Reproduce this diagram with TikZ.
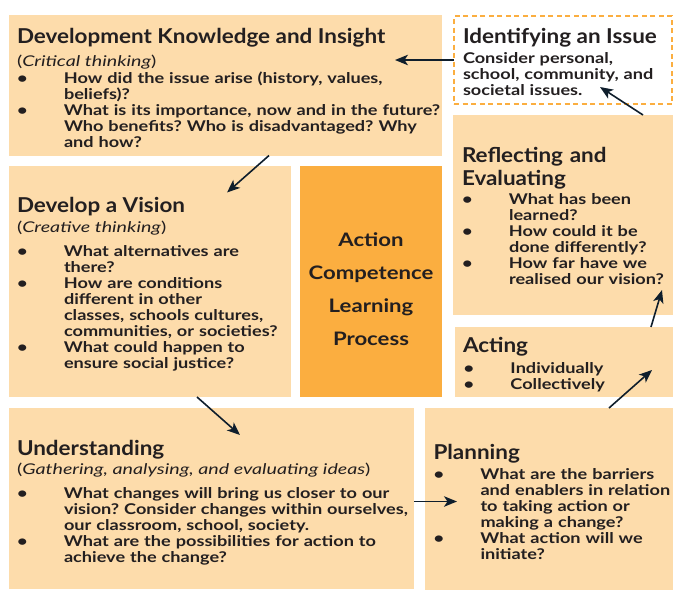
\documentclass[tikz,border=0pt]{standalone}
\usepackage{fontspec}
\setmainfont{Lato}[FakeStretch=1.225]
\newfontfamily\ttlfam{Lato}[FakeStretch=1.095]
\newfontfamily\subfam{Lato}[FakeStretch=1.33]
\newfontfamily\actfam{Lato}[FakeStretch=1.19]
\usetikzlibrary{arrows.meta}
\definecolor{peach}{HTML}{FDDCAB}
\definecolor{orng}{HTML}{FBAE40}
\definecolor{navy}{HTML}{0F1E2C}
\definecolor{ink}{HTML}{231F20}
\frenchspacing
\hyphenpenalty=10000
\newcommand\ttlf{\ttlfam\fontsize{20.5}{23.3}\selectfont\bfseries}
\newcommand\bdyf{\frenchspacing\fontsize{14.8}{16}\selectfont\bfseries}
\newcommand\actf{\actfam\fontsize{18.6}{33.3}\selectfont\bfseries}
\newcommand\subt[1]{{\subfam\fontsize{14.8}{16}\selectfont\mdseries(\textit{#1})}}
\newcommand\bulx{\makebox[47pt][l]{\textbullet}}
\newcommand\indx{\hspace*{47pt}}
\begin{document}
\begin{tikzpicture}[x=1pt,y=-1pt,
  box/.style={fill=peach, draw=none, inner sep=0pt, outer sep=0pt, anchor=north west},
  accbox/.style={fill=orng, draw=none, inner sep=0pt, outer sep=0pt, anchor=north west},
  idbox/.style={draw=orng, line width=2pt, dash pattern=on 5pt off 3.5pt, inner sep=0pt, outer sep=0pt, anchor=north west},
  ttl/.style={anchor=base west, inner sep=0pt, outer sep=0pt, text=ink, font=\ttlf},
  ttlm/.style={anchor=base west, inner sep=0pt, outer sep=0pt, text=ink, font=\ttlf, text width=215pt, align=left},
  subn/.style={anchor=base west, inner sep=0pt, outer sep=0pt, text=ink},
  bdy/.style={anchor=base west, inner sep=0pt, outer sep=0pt, text=ink, font=\bdyf, text width=620pt, align=left},
  act/.style={anchor=base, inner sep=0pt, outer sep=0pt, text=ink, font=\actf, text width=142pt, align=center},
  arr/.style={draw=navy, line width=1.6pt, -{Stealth[length=13pt,width=10.5pt,inset=3.5pt]}}
]
\useasboundingbox (0,0) rectangle (673,590);
\fill[white] (0,0) rectangle (673,590);

% boxes
\node[box, minimum width=433pt, minimum height=140.5pt] (dk) at (9,15) {};
\node[idbox, minimum width=218pt, minimum height=88pt] (id) at (454,16) {};
\node[box, minimum width=220pt, minimum height=200pt] (rf) at (453,115) {};
\node[box, minimum width=282pt, minimum height=231pt] (dv) at (9,166) {};
\node[accbox, minimum width=142pt, minimum height=231pt] (ac) at (300,166) {};
\node[box, minimum width=218pt, minimum height=70pt] (at) at (455,327) {};
\node[box, minimum width=405pt, minimum height=181pt] (un) at (9,408) {};
\node[box, minimum width=248pt, minimum height=182pt] (pl) at (425,408) {};

% texts
\node[ttl] (dkT) at (17,43) {Development Knowledge and Insight};
\node[subn] (dkS) at (17,66) {\subt{Critical thinking}};
\node[bdy] (dkB) at (17,83) {\bulx How did the issue arise (history, values,\\
\indx beliefs)?\\
\bulx What is its importance, now and in the future?\\
\indx Who benefits? Who is disadvantaged? Why\\
\indx and how?};

\node[ttl] (idT) at (463,43) {Identifying an Issue};
\node[bdy] (idB) at (463,63) {Consider personal,\\ school, community, and\\ societal issues.};

\node[ttlm] (rfT) at (462,162) {Reflecting and\\ Evaluating};
\node[bdy] (rfB) at (462,204.5) {\bulx What has been\\
\indx learned?\\
\bulx How could it be\\
\indx done differently?\\
\bulx How far have we\\
\indx realised our vision?};

\node[ttl] (dvT) at (17,212.5) {Develop a Vision};
\node[subn] (dvS) at (17,232) {\subt{Creative thinking}};
\node[bdy] (dvB) at (17,256) {\bulx What alternatives are\\
\indx there?\\
\bulx How are conditions\\
\indx different in other\\
\indx classes, schools cultures,\\
\indx communities, or societies?\\
\bulx What could happen to\\
\indx ensure social justice?};

\node[act] (acT) at (371,246) {Action\\ Competence\\ Learning\\ Process};

\node[ttl] (atT) at (463,352) {Acting};
\node[bdy] (atB) at (463.5,373.5) {\bulx Individually\\ \bulx Collectively};

\node[ttl] (unT) at (17,455) {Understanding};
\node[subn] (unS) at (17,474) {\subt{Gathering, analysing, and evaluating ideas}};
\node[bdy] (unB) at (17,498.5) {\bulx What changes will bring us closer to our\\
\indx vision? Consider changes within ourselves,\\
\indx our classroom, school, society.\\
\bulx What are the possibilities for action to\\
\indx achieve the change?};

\node[ttl] (plT) at (433.5,459) {Planning};
\node[bdy] (plB) at (433.5,479) {\bulx What are the barriers\\
\indx and enablers in relation\\
\indx to taking action or\\
\indx making a change?\\
\bulx What action will we\\
\indx initiate?};

% arrow end points
\coordinate (a1e) at (395,60);
\coordinate (a2s) at (269,155.5);
\coordinate (a2e) at (227,192.5);
\coordinate (a3s) at (197,397);
\coordinate (a3e) at (240,435);
\coordinate (a4s) at (414,501.5);
\coordinate (a4e) at (457,501.5);
\coordinate (a5s) at (609,408);
\coordinate (a5e) at (652,370);
\coordinate (a6s) at (651,327);
\coordinate (a6e) at (662,290);
\coordinate (a7s) at (643,115);
\coordinate (a7e) at (600,87);

\draw[arr] (id.west) -- (a1e);
\draw[arr] (a2s) -- (a2e);
\draw[arr] (a3s) -- (a3e);
\draw[arr] (a4s) -- (a4e);
\draw[arr] (a5s) -- (a5e);
\draw[arr] (a6s) -- (a6e);
\draw[arr] (a7s) -- (a7e);
\end{tikzpicture}
\end{document}
